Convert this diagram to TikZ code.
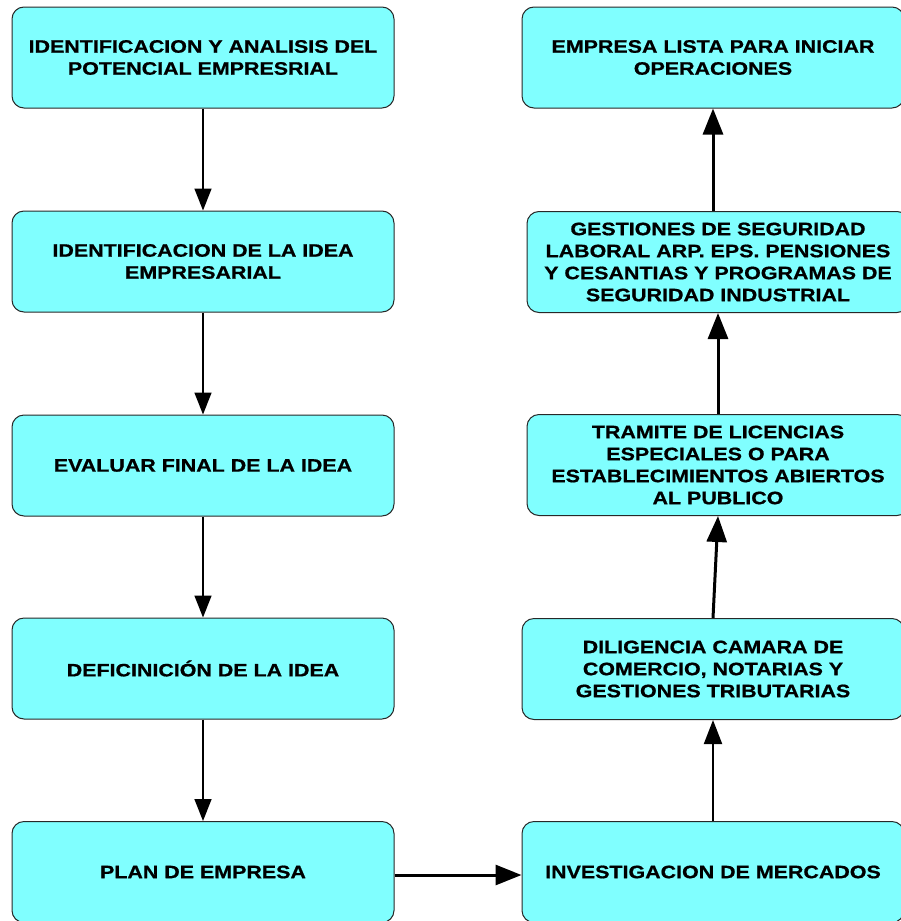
\documentclass[tikz,border=0pt]{standalone}
\usepackage{fontspec}
\setmainfont{Liberation Sans}[FakeStretch=1.19,FakeBold=0.8]
\usetikzlibrary{arrows.meta}
\definecolor{boxfill}{RGB}{128,255,255}
\definecolor{boxline}{RGB}{40,40,40}

\begin{document}
\begin{tikzpicture}[x=1pt,y=-1pt,
  stepbox/.style={draw=boxline, line width=1pt, fill=boxfill, rounded corners=12pt,
    minimum width=382pt, minimum height=101pt, inner sep=0pt, align=center,
    font=\fontsize{18}{22}\selectfont\bfseries},
  thinarrow/.style={line width=1.5pt, -{Triangle[length=22pt,width=17pt]}},
  midarrow/.style={line width=2pt, -{Triangle[length=24pt,width=18pt]}},
  thickarrow/.style={line width=3pt, -{Triangle[length=26pt,width=20pt]}}]
\useasboundingbox (0,0) rectangle (901,921);
\clip (0,0) rectangle (901,921);

% left column
\node[stepbox] (l1) at (203,57.5) {IDENTIFICACION Y ANALISIS DEL\\POTENCIAL EMPRESRIAL};
\node[stepbox] (l2) at (203,261.5) {IDENTIFICACION DE LA IDEA\\EMPRESARIAL};
\node[stepbox] (l3) at (203,465.5) {EVALUAR FINAL DE LA IDEA};
\node[stepbox] (l4) at (203,668.5) {DEFICINICIÓN DE LA IDEA};
\node[stepbox] (l5) at (203,872) {PLAN DE EMPRESA};

% right column
\node[stepbox] (r1) at (713,57.5) {EMPRESA LISTA PARA INICIAR\\OPERACIONES};
\node[stepbox] (r2) at (718,262) {GESTIONES DE SEGURIDAD\\LABORAL ARP. EPS. PENSIONES\\Y CESANTIAS Y PROGRAMAS DE\\SEGURIDAD INDUSTRIAL};
\node[stepbox] (r3) at (718,465) {TRAMITE DE LICENCIAS\\ESPECIALES O PARA\\ESTABLECIMIENTOS ABIERTOS\\AL PUBLICO};
\node[stepbox] (r4) at (713,669) {DILIGENCIA CAMARA DE\\COMERCIO, NOTARIAS Y\\GESTIONES TRIBUTARIAS};
\node[stepbox] (r5) at (713,872) {INVESTIGACION DE MERCADOS};

% connectors
\draw[thinarrow] (l1.south) -- (l2.north);
\draw[thinarrow] (l2.south) -- (l3.north);
\draw[thinarrow] (l3.south) -- (l4.north);
\draw[thinarrow] (l4.south) -- (l5.north);
\draw[thickarrow] ([yshift=-3pt]l5.east) -- ([yshift=-3pt]r5.west);
\draw[midarrow] (r5.north) -- (r4.south);
\draw[thickarrow] (r4.north) -- (r3.south);
\draw[thickarrow] (r3.north) -- (r2.south);
\draw[thickarrow] (r2.north -| r1.south) -- (r1.south);
\end{tikzpicture}
\end{document}
